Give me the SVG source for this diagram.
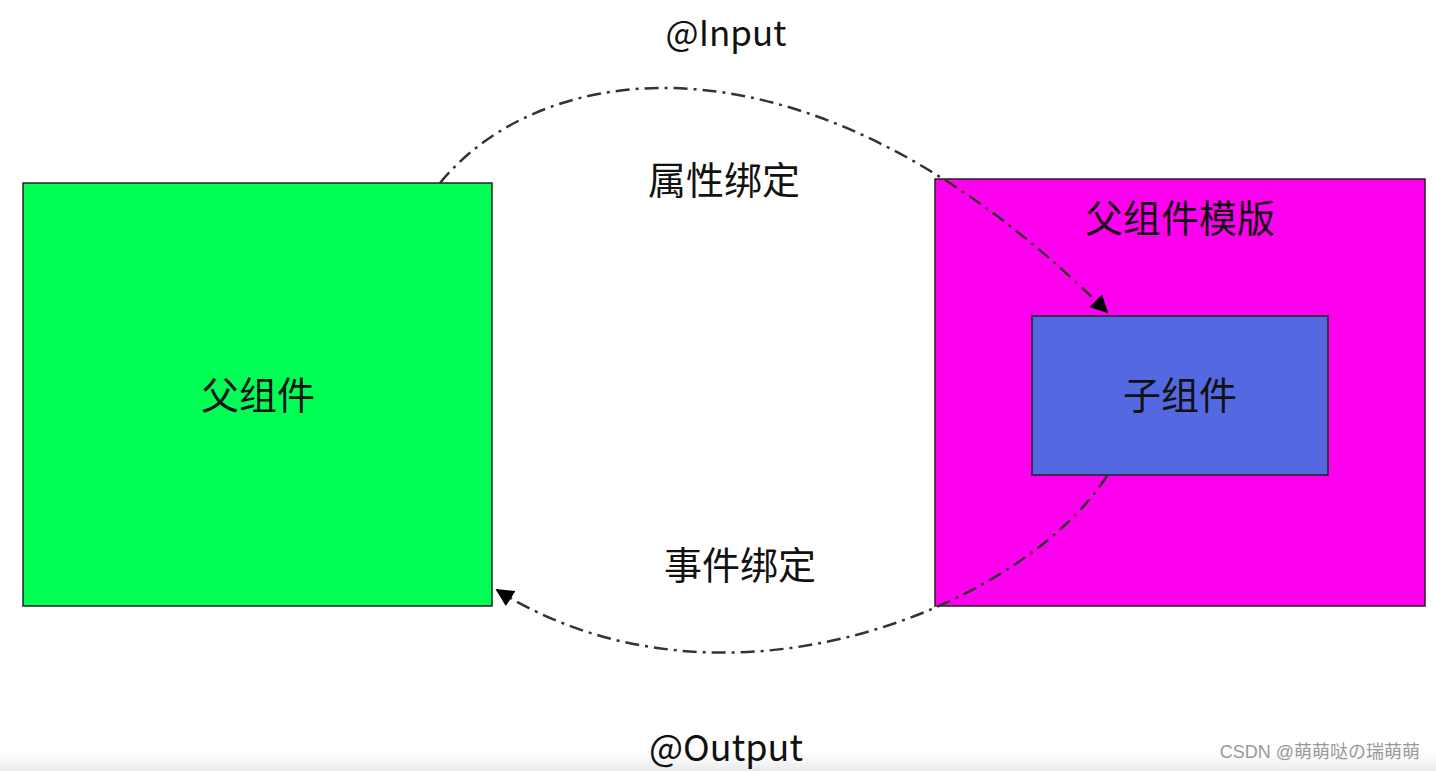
<svg xmlns="http://www.w3.org/2000/svg" width="1436" height="771" viewBox="0 0 1436 771">
<style>
.t{font-family:"Noto Sans CJK SC","Liberation Sans",sans-serif;fill:#111;text-anchor:middle}
.box{stroke:#222;stroke-width:1.5}
.conn{fill:none;stroke:#333;stroke-width:2.5;stroke-dasharray:14 6 3 6}
</style>
<defs>
<marker id="a" viewBox="0 0 10 10" refX="9" refY="5" markerWidth="18" markerHeight="18" orient="auto" markerUnits="userSpaceOnUse">
<path d="M0,0 L10,5 L0,10 z" fill="#000"/>
</marker>
<linearGradient id="bot" x1="0" y1="0" x2="0" y2="1">
<stop offset="0" stop-color="#fff" stop-opacity="0"/>
<stop offset="1" stop-color="#e8e8e8"/>
</linearGradient>
</defs>
<rect width="1436" height="771" fill="#fff"/>
<rect x="0" y="745" width="1436" height="26" fill="url(#bot)"/>
<g id="parent">
<rect class="box" x="23" y="183" width="469" height="423" fill="#00ff55"/>
<text class="t" x="258" y="409" font-size="38">父组件</text>
</g>
<g id="template">
<rect class="box" x="935" y="179" width="490" height="427" fill="#ff00ee"/>
<text class="t" x="1180" y="232" font-size="38">父组件模版</text>
</g>
<g id="child">
<rect class="box" x="1032" y="316" width="296" height="159" fill="#5468e2"/>
<text class="t" x="1180" y="409" font-size="38">子组件</text>
</g>
<g id="connectors">
<path class="conn" d="M440,183 C545,55 815,20 1107,312" marker-end="url(#a)"/>
<path class="conn" d="M1107,476 C1020,610 720,730 497,590" marker-end="url(#a)"/>
</g>
<g id="labels">
<text class="t" x="726" y="46" font-size="35" font-family="Liberation Sans">@Input</text>
<text class="t" x="724" y="194" font-size="38">属性绑定</text>
<text class="t" x="740" y="579" font-size="38">事件绑定</text>
<text class="t" x="726" y="761" font-size="36">@Output</text>
<text x="1420" y="758" font-size="18" fill="#999" text-anchor="end" font-family="Liberation Sans,Noto Sans CJK SC,sans-serif">CSDN @萌萌哒の瑞萌萌</text>
</g>
</svg>
